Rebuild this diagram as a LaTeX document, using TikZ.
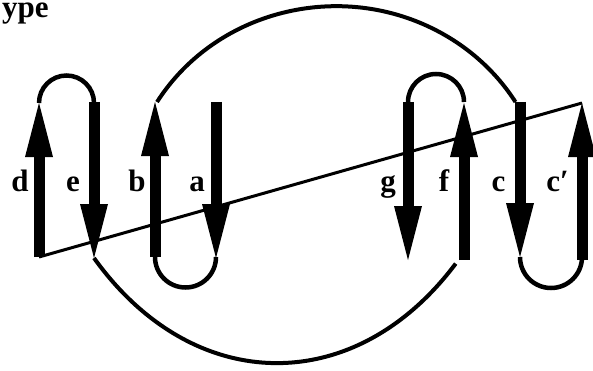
\documentclass[tikz,border=0pt]{standalone}
\usepackage{fontspec}
\setmainfont{Liberation Serif}
\tikzset{
  shaft/.style={line width=11pt},
  loopline/.style={line width=4.5pt},
  bigarc/.style={line width=4pt},
  crossline/.style={line width=3pt},
  lab/.style={font=\bfseries\fontsize{31}{31}\selectfont, anchor=base, inner sep=0pt},
}
\newcommand{\strandup}[2]{%
  \draw[shaft] (#1) -- ([yshift=-50pt]#2);
  \fill ([xshift=-14pt,yshift=-54pt]#2) -- (#2) -- ([xshift=14pt,yshift=-54pt]#2) -- cycle;}
\newcommand{\stranddown}[2]{%
  \draw[shaft] (#1) -- ([yshift=50pt]#2);
  \fill ([xshift=-14pt,yshift=54pt]#2) -- (#2) -- ([xshift=14pt,yshift=54pt]#2) -- cycle;}
\begin{document}
\begin{tikzpicture}[x=1pt,y=1pt]
\useasboundingbox (0,0) rectangle (593,370);
% strand ends (tail, tip)
\coordinate (d0) at (39,113);  \coordinate (d1) at (39,267);
\coordinate (e0) at (94,268);  \coordinate (e1) at (94,112);
\coordinate (b0) at (155,113); \coordinate (b1) at (155,268);
\coordinate (a0) at (216,268); \coordinate (a1) at (216,112);
\coordinate (g0) at (408,268); \coordinate (g1) at (408,110);
\coordinate (f0) at (464,110); \coordinate (f1) at (464,267);
\coordinate (c0) at (520,268); \coordinate (c1) at (520,113);
\coordinate (cp0) at (582,110); \coordinate (cp1) at (582,267);
\coordinate (arcA) at (157,268);
% crossing line
\draw[crossline] (d0) -- (cp1);
% loops
\draw[loopline] (d1) arc[start angle=180, end angle=0, radius=27.5pt];
\draw[loopline] (b0) arc[start angle=180, end angle=360, radius=30.5pt];
\draw[loopline] (g0) arc[start angle=180, end angle=0, radius=28pt];
\draw[loopline] (c1) arc[start angle=180, end angle=360, radius=31pt];
% big arcs
\draw[bigarc] (arcA) arc[start angle=148.6, end angle=31.4, x radius=210pt, y radius=200pt];
\draw[bigarc] (e1) arc[start angle=224.4, end angle=314.3, x radius=256pt, y radius=350pt];
% strands
\strandup{d0}{d1}
\stranddown{e0}{e1}
\strandup{b0}{b1}
\stranddown{a0}{a1}
\stranddown{g0}{g1}
\strandup{f0}{f1}
\stranddown{c0}{c1}
\strandup{cp0}{cp1}
% labels
\node[lab] (ld) at (20,179) {d};
\node[lab] (le) at (73,179) {e};
\node[lab] (lb) at (137,179) {b};
\node[lab] (la) at (197,179) {a};
\node[lab] (lg) at (388,179) {g};
\node[lab] (lf) at (444,179) {f};
\node[lab] (lc) at (498.5,179) {c};
\node[lab] (lcp) at (557.5,179) {c′};
\node[lab, anchor=base west] (title) at (2,352) {ype};
\end{tikzpicture}
\end{document}
